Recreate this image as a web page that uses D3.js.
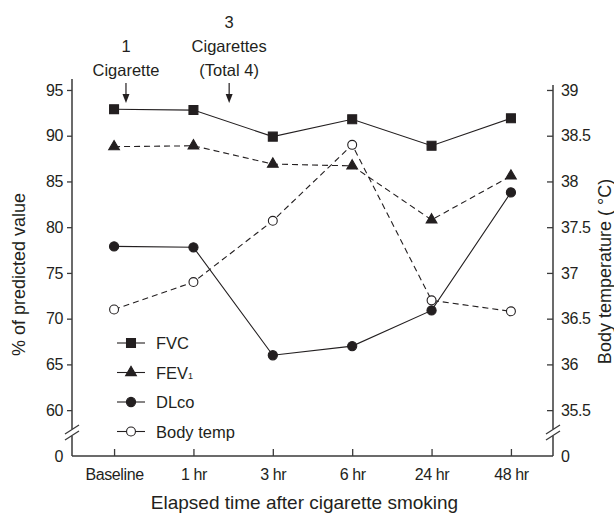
<!DOCTYPE html>
<html>
<head>
<meta charset="utf-8">
<script src="https://cdn.jsdelivr.net/npm/d3@7"></script>
<style>
  html, body { margin: 0; padding: 0; background: #fff; }
  svg { display: block; font-family: "Liberation Sans", Arial, sans-serif; }
</style>
</head>
<body>
<div id="chart"></div>
<script>
const timepoints = ['Baseline', '1 hr', '3 hr', '6 hr', '24 hr', '48 hr'];
const fvc = [92.9, 92.8, 89.9, 91.8, 88.9, 91.9];
const fev1 = [88.8, 88.9, 86.9, 86.7, 80.8, 85.6];
const dlco = [77.9, 77.8, 66.0, 67.0, 70.9, 83.8];
const bodyTemp = [36.6, 36.9, 37.57, 38.4, 36.7, 36.58];
const leftTicks = [0, 60, 65, 70, 75, 80, 85, 90, 95];
const rightTicks = [0, 35.5, 36, 36.5, 37, 37.5, 38, 38.5, 39];
const annotations = [
  { lines: ['1', 'Cigarette'], at: 'Baseline', shift: 0.15 },
  { lines: ['3', 'Cigarettes', '(Total 4)'], at: '1 hr', shift: 0.45 }
];

const INK = '#231f20';
const W = 614, H = 513;
const M = { t: 79, r: 61, b: 57, l: 72 };
const y0 = H - M.b;          // zero line
const yBreak = 433;          // axis break position

const svg = d3.select('#chart').append('svg')
  .attr('width', W).attr('height', H)
  .attr('viewBox', `0 0 ${W} ${H}`);

const x = d3.scalePoint()
  .domain(timepoints)
  .range([M.l, W - M.r])
  .padding(0.53);

// broken axes: 0 at the bottom, then a jump to the plotted range
const yL = d3.scaleLinear().domain([0, 57.5, 96.2]).range([y0, yBreak, M.t]);
const yR = d3.scaleLinear().domain([0, 35.25, 39.12]).range([y0, yBreak, M.t]);

const axisStroke = '#3a3a3a';
const tickFont = g => g.selectAll('.tick text')
  .attr('fill', INK)
  .style('font-size', '16px')
  .style('letter-spacing', '-0.4px')
  .style('font-family', '"Liberation Sans", Arial, sans-serif');

// left axis
const gL = svg.append('g')
  .attr('transform', `translate(${M.l},0)`)
  .call(d3.axisLeft(yL).tickValues(leftTicks).tickFormat(d => String(d))
    .tickSizeOuter(0).tickSize(5).tickPadding(4));
gL.select('.domain').remove();
gL.selectAll('.tick').filter(d => d === 0).select('line').remove();

// right axis (ticks point inward)
const gR = svg.append('g')
  .attr('transform', `translate(${W - M.r},0)`)
  .call(d3.axisRight(yR).tickValues(rightTicks).tickFormat(d => String(d))
    .tickSizeOuter(0).tickSizeInner(-6).tickPadding(8));
gR.select('.domain').remove();
gR.selectAll('.tick').filter(d => d === 0).select('line').remove();

[gL, gR].forEach(g => {
  g.selectAll('.tick line').attr('stroke', axisStroke).attr('stroke-width', 1.3);
  tickFont(g);
});

// vertical axis lines
svg.append('line')
  .attr('x1', M.l).attr('x2', M.l).attr('y1', M.t).attr('y2', y0)
  .attr('stroke', axisStroke).attr('stroke-width', 1.5);
svg.append('line')
  .attr('x1', W - M.r).attr('x2', W - M.r).attr('y1', M.t + 6).attr('y2', y0)
  .attr('stroke', axisStroke).attr('stroke-width', 1.5);

// x axis (ticks point up)
const gX = svg.append('g')
  .attr('transform', `translate(0,${y0})`)
  .call(d3.axisBottom(x).tickSizeOuter(0).tickSizeInner(-7).tickPadding(13));
gX.select('.domain')
  .attr('d', `M${M.l},0H${W - M.r}`)
  .attr('stroke', axisStroke).attr('stroke-width', 1.5);
gX.selectAll('.tick line').attr('stroke', axisStroke).attr('stroke-width', 1.3);
tickFont(gX);

// break marks on both axes
[M.l, W - M.r].forEach(ax => {
  svg.append('rect')
    .attr('x', ax - 2).attr('y', yBreak - 4).attr('width', 4).attr('height', 7)
    .attr('fill', '#fff');
  [-3, 3].forEach(off => {
    svg.append('line')
      .attr('x1', ax - 7).attr('y1', yBreak + 4 + off)
      .attr('x2', ax + 7).attr('y2', yBreak - 5 + off)
      .attr('stroke', axisStroke).attr('stroke-width', 1.3);
  });
});

// axis titles
svg.append('text')
  .attr('transform', `translate(25,${(M.t + y0) / 2 + 7}) rotate(-90)`)
  .attr('text-anchor', 'middle')
  .attr('fill', INK)
  .style('font-size', '18px')
  .text('% of predicted value');

svg.append('text')
  .attr('transform', `translate(611,${(M.t + y0) / 2 + 4}) rotate(-90)`)
  .attr('text-anchor', 'middle')
  .attr('fill', INK)
  .style('font-size', '18px')
  .text('Body temperature ( °C)');

svg.append('text')
  .attr('x', (M.l + W - M.r) / 2 - 8).attr('y', 509)
  .attr('text-anchor', 'middle')
  .attr('fill', INK)
  .style('font-size', '19px')
  .text('Elapsed time after cigarette smoking');

// series
const series = [
  { name: 'FVC', values: fvc, y: yL, symbol: d3.symbolSquare, size: 80, fill: INK, dash: null },
  { name: 'FEV', values: fev1, y: yL, symbol: d3.symbolTriangle, size: 50, fill: INK, dash: '6 4' },
  { name: 'DLco', values: dlco, y: yL, symbol: d3.symbolCircle, size: 66, fill: INK, dash: null },
  { name: 'Body temp', values: bodyTemp, y: yR, symbol: d3.symbolCircle, size: 62, fill: '#fff', dash: '6 4' }
];

const line = (s) => d3.line()
  .x((d, i) => x(timepoints[i]))
  .y(d => s.y(d));

series.forEach(s => {
  svg.append('path')
    .datum(s.values)
    .attr('fill', 'none')
    .attr('stroke', INK)
    .attr('stroke-width', 1.1)
    .attr('stroke-dasharray', s.dash)
    .attr('d', line(s));
});

series.forEach(s => {
  svg.append('g').selectAll('path')
    .data(s.values)
    .enter().append('path')
    .attr('transform', (d, i) => `translate(${x(timepoints[i])},${s.y(d)})`)
    .attr('d', d3.symbol(s.symbol, s.size))
    .attr('fill', s.fill)
    .attr('stroke', INK)
    .attr('stroke-width', 1.1);
});

// legend
const legend = svg.append('g').attr('transform', 'translate(117,343)');
series.forEach((s, i) => {
  const row = legend.append('g').attr('transform', `translate(0,${i * 29.5})`);
  row.append('line')
    .attr('x1', 0).attr('x2', 28)
    .attr('stroke', INK).attr('stroke-width', 1.1);
  row.append('path')
    .attr('transform', 'translate(14,0)')
    .attr('d', d3.symbol(s.symbol, s.size))
    .attr('fill', s.fill)
    .attr('stroke', INK)
    .attr('stroke-width', 1.1);
  const t = row.append('text')
    .attr('x', 39).attr('y', 6)
    .attr('fill', INK)
    .style('font-size', '16.5px')
    .text(s.name);
  if (s.name === 'FEV') {
    t.append('tspan').style('font-size', '9px').text('1');
  }
});

// smoking annotations
const step = x.step();
annotations.forEach(a => {
  const ax = x(a.at) + a.shift * step;
  const n = a.lines.length;
  const g = svg.append('g');
  a.lines.forEach((ln, i) => {
    g.append('text')
      .attr('x', ax).attr('y', 76 - (n - 1 - i) * 24)
      .attr('text-anchor', 'middle')
      .attr('fill', INK)
      .style('font-size', '16.5px')
      .text(ln);
  });
  g.append('line')
    .attr('x1', ax).attr('x2', ax).attr('y1', 83).attr('y2', 96)
    .attr('stroke', INK).attr('stroke-width', 1.2);
  g.append('path')
    .attr('d', `M${ax - 3.5},94 L${ax + 3.5},94 L${ax},103 Z`)
    .attr('fill', INK);
});
</script>
</body>
</html>
